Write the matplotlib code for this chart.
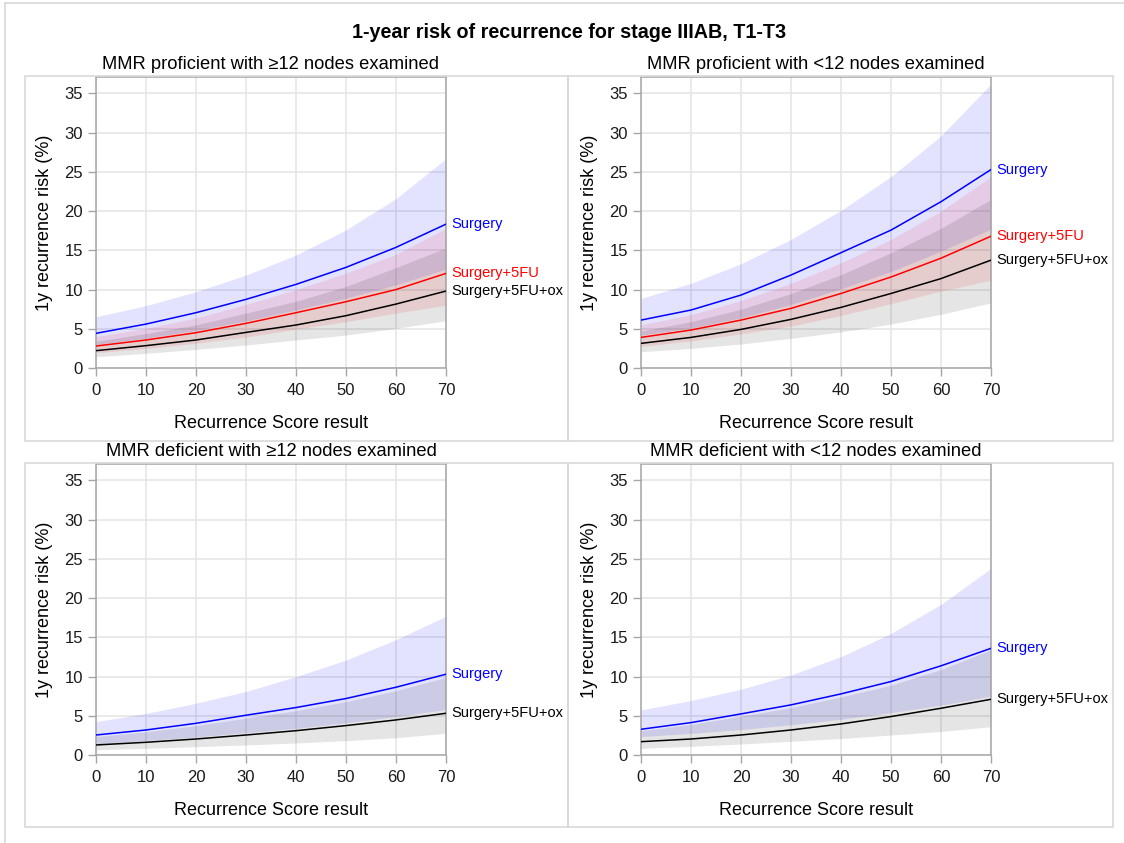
import matplotlib.pyplot as plt
from matplotlib.lines import Line2D
from matplotlib.patches import Rectangle

plt.rcParams["font.family"] = ["Liberation Sans", "DejaVu Sans"]

W, H = 1124, 843

score = [0, 10, 20, 30, 40, 50, 60, 70]

# MMR proficient, >=12 nodes: estimate, lower CI, upper CI (%)
prof_ge12_surg = [4.42, 5.6, 7.05, 8.75, 10.66, 12.83, 15.38, 18.34]
prof_ge12_surg_lo = [3.0, 3.8, 4.8, 6.0, 7.4, 8.9, 10.6, 12.6]
prof_ge12_surg_hi = [6.54, 7.95, 9.72, 11.85, 14.4, 17.6, 21.6, 26.7]
prof_ge12_5fu = [2.8, 3.57, 4.5, 5.69, 7.05, 8.45, 10.0, 12.06]
prof_ge12_5fu_lo = [1.95, 2.5, 3.15, 3.95, 4.95, 5.9, 7.0, 8.0]
prof_ge12_5fu_hi = [4.0, 5.05, 6.4, 8.1, 10.0, 12.1, 14.5, 17.8]
prof_ge12_ox = [2.21, 2.85, 3.57, 4.54, 5.48, 6.67, 8.15, 9.81]
prof_ge12_ox_lo = [1.44, 1.87, 2.38, 2.93, 3.57, 4.2, 5.05, 6.03]
prof_ge12_ox_hi = [3.4, 4.4, 5.5, 7.0, 8.5, 10.4, 12.8, 15.3]

# MMR proficient, <12 nodes
prof_lt12_surg = [6.11, 7.39, 9.3, 11.85, 14.7, 17.58, 21.2, 25.3]
prof_lt12_surg_lo = [4.2, 5.1, 6.4, 8.1, 10.1, 12.3, 14.9, 17.7]
prof_lt12_surg_hi = [8.87, 10.8, 13.3, 16.4, 20.1, 24.4, 29.6, 36.2]
prof_lt12_5fu = [3.9, 4.84, 6.11, 7.6, 9.5, 11.6, 14.0, 16.8]
prof_lt12_5fu_lo = [2.75, 3.45, 4.35, 5.35, 6.7, 8.2, 9.8, 11.2]
prof_lt12_5fu_hi = [5.5, 6.8, 8.6, 10.8, 13.4, 16.4, 20.0, 24.4]
prof_lt12_ox = [3.14, 3.9, 4.92, 6.2, 7.73, 9.5, 11.4, 13.75]
prof_lt12_ox_lo = [2.08, 2.5, 3.06, 3.78, 4.6, 5.6, 6.85, 8.3]
prof_lt12_ox_hi = [4.7, 5.9, 7.5, 9.5, 11.9, 14.7, 17.8, 21.5]

# MMR deficient, >=12 nodes
def_ge12_surg = [2.55, 3.19, 4.04, 5.07, 6.05, 7.2, 8.64, 10.3]
def_ge12_surg_lo = [1.45, 1.85, 2.3, 2.85, 3.4, 4.1, 4.9, 5.8]
def_ge12_surg_hi = [4.26, 5.3, 6.6, 8.1, 10.0, 12.1, 14.7, 17.7]
def_ge12_ox = [1.28, 1.62, 2.04, 2.55, 3.1, 3.75, 4.47, 5.32]
def_ge12_ox_lo = [0.67, 0.85, 1.06, 1.28, 1.53, 1.83, 2.2, 2.77]
def_ge12_ox_hi = [2.35, 2.95, 3.75, 4.7, 5.65, 6.8, 8.2, 9.9]

# MMR deficient, <12 nodes
def_lt12_surg = [3.28, 4.13, 5.24, 6.39, 7.79, 9.37, 11.37, 13.6]
def_lt12_surg_lo = [2.35, 2.75, 3.25, 3.85, 4.55, 5.4, 6.35, 7.5]
def_lt12_surg_hi = [5.75, 6.95, 8.39, 10.2, 12.55, 15.5, 19.2, 23.8]
def_lt12_ox = [1.7, 2.04, 2.55, 3.19, 3.96, 4.9, 5.96, 7.1]
def_lt12_ox_lo = [0.85, 1.1, 1.4, 1.75, 2.1, 2.55, 3.0, 3.6]
def_lt12_ox_hi = [3.1, 3.9, 4.95, 6.05, 7.4, 8.9, 10.9, 13.4]

panel_titles = [
    "MMR proficient with \u226512 nodes examined",
    "MMR proficient with <12 nodes examined",
    "MMR deficient with \u226512 nodes examined",
    "MMR deficient with <12 nodes examined",
]

# (label, line colour, band colour, band alpha) per arm
ARMS = {
    "surg": ("Surgery", "#0000ff", "#0000ff", 0.11),
    "5fu": ("Surgery+5FU", "#ff0000", "#ff0000", 0.10),
    "ox": ("Surgery+5FU+ox", "#000000", "#000000", 0.10),
}

panels = [
    {"surg": (prof_ge12_surg, prof_ge12_surg_lo, prof_ge12_surg_hi),
     "5fu": (prof_ge12_5fu, prof_ge12_5fu_lo, prof_ge12_5fu_hi),
     "ox": (prof_ge12_ox, prof_ge12_ox_lo, prof_ge12_ox_hi)},
    {"surg": (prof_lt12_surg, prof_lt12_surg_lo, prof_lt12_surg_hi),
     "5fu": (prof_lt12_5fu, prof_lt12_5fu_lo, prof_lt12_5fu_hi),
     "ox": (prof_lt12_ox, prof_lt12_ox_lo, prof_lt12_ox_hi)},
    {"surg": (def_ge12_surg, def_ge12_surg_lo, def_ge12_surg_hi),
     "ox": (def_ge12_ox, def_ge12_ox_lo, def_ge12_ox_hi)},
    {"surg": (def_lt12_surg, def_lt12_surg_lo, def_lt12_surg_hi),
     "ox": (def_lt12_ox, def_lt12_ox_lo, def_lt12_ox_hi)},
]

# axes boxes in pixels: left, top, right, bottom
AX_PX = [(96, 77, 446, 368), (641, 77, 991, 368),
         (96, 464, 446, 755), (641, 464, 991, 755)]
# panel frames in pixels
BOX_PX = [(25, 76, 568, 441), (568, 76, 1113, 441),
          (25, 463, 568, 827), (568, 463, 1113, 827)]

GRID = "#e4e4e4"
SPINE = "#a6a6a6"
FRAME = "#d9d9d9"


def fx(px):
    return px / W


def fy(py):
    return 1 - py / H


fig = plt.figure(figsize=(W / 100, H / 100), dpi=100)

# outer frame (top and left edges only)
fig.add_artist(Line2D([fx(5), 1], [fy(3), fy(3)], color=FRAME, lw=1.2))
fig.add_artist(Line2D([fx(5), fx(5)], [fy(3), 0], color=FRAME, lw=1.2))

for l, t, r, b in BOX_PX:
    fig.add_artist(Rectangle((fx(l), fy(b)), fx(r - l), (b - t) / H,
                             fill=False, ec=FRAME, lw=1.2))

fig.text(fx(569), fy(33), "1-year risk of recurrence for stage IIIAB, T1-T3",
         ha="center", va="center", fontsize=14.2, fontweight="bold")

for i, (data, title) in enumerate(zip(panels, panel_titles)):
    l, t, r, b = AX_PX[i]
    ax = fig.add_axes([fx(l), fy(b), fx(r - l), (b - t) / H])

    for key in ["surg", "5fu", "ox"]:
        if key not in data:
            continue
        est, lo, hi = data[key]
        _, _, band, alpha = ARMS[key]
        ax.fill_between(score, lo, hi, color=band, alpha=alpha, lw=0, zorder=2)

    for key in ["surg", "5fu", "ox"]:
        if key not in data:
            continue
        est, lo, hi = data[key]
        label, col, _, _ = ARMS[key]
        ax.plot(score, est, color=col, lw=1.1, zorder=3)
        ax.annotate(label, xy=(score[-1], est[-1]), xytext=(4, 0),
                    textcoords="offset points", ha="left", va="center",
                    color=col, fontsize=10.5, annotation_clip=False)

    ax.set_xlim(0, 70)
    ax.set_ylim(0, 37.1)
    ax.set_xticks(range(0, 71, 10))
    ax.set_yticks(range(0, 36, 5))
    ax.grid(True, color=GRID, lw=1.1, zorder=0)
    ax.set_axisbelow(True)
    for s in ax.spines.values():
        s.set_color(SPINE)
        s.set_linewidth(1.1)
    ax.tick_params(colors=SPINE, labelcolor="#1a1a1a", labelsize=12,
                   length=6, width=1.0, direction="out")
    ax.tick_params(axis="x", pad=5)
    ax.set_xlabel("Recurrence Score result", fontsize=13, labelpad=12)
    ax.set_ylabel("1y recurrence risk (%)", fontsize=13, labelpad=8)
    ax.set_title(title, fontsize=13.2, pad=6)

fig.savefig("out.png", dpi=100)
